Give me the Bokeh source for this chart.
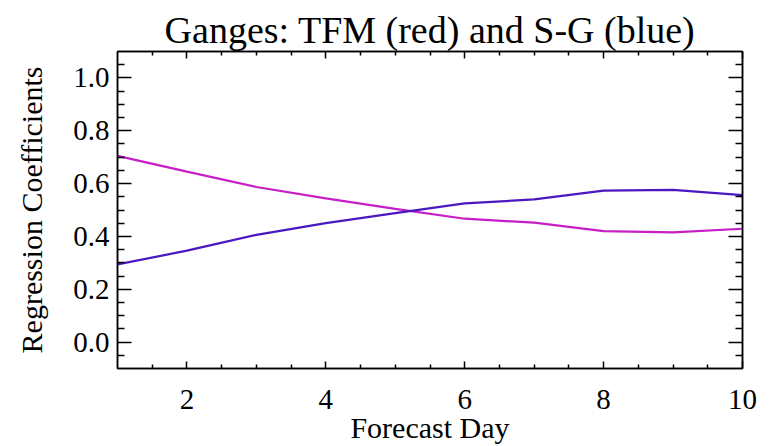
from bokeh.plotting import figure
from bokeh.models import Range1d, FixedTicker, LinearAxis, Title, CustomJSTickFormatter
from bokeh.embed import file_html
from bokeh.resources import INLINE

# Data
forecast_day = [1, 2, 3, 4, 5, 6, 7, 8, 9, 10]
tfm_coef = [0.705, 0.645, 0.587, 0.544, 0.504, 0.467, 0.452, 0.420, 0.415, 0.429]
sg_coef = [0.294, 0.346, 0.406, 0.450, 0.488, 0.525, 0.540, 0.573, 0.576, 0.556]

x_ticks = [2, 4, 6, 8, 10]
x_minor = [1.5, 2.5, 3, 3.5, 4.5, 5, 5.5, 6.5, 7, 7.5, 8.5, 9, 9.5]
y_ticks = [0.0, 0.2, 0.4, 0.6, 0.8, 1.0]
y_minor = [-0.05, 0.05, 0.1, 0.15, 0.25, 0.3, 0.35, 0.45, 0.5, 0.55,
           0.65, 0.7, 0.75, 0.85, 0.9, 0.95, 1.05]
y_labels = {0.0: "0.0", 0.2: "0.2", 0.4: "0.4", 0.6: "0.6", 0.8: "0.8", 1.0: "1.0"}

title_text = "Ganges: TFM (red) and S-G (blue)"
x_label = "Forecast Day"
y_label = "Regression Coefficients"

FONT = "Liberation Serif"

p = figure(width=771, height=446, output_backend="svg", toolbar_location=None,
           x_range=Range1d(1, 10), y_range=Range1d(-0.1, 1.1),
           min_border_left=117, min_border_right=29, min_border_top=51,
           min_border_bottom=77, x_axis_type=None, y_axis_type=None)
p.background_fill_color = "white"
p.border_fill_color = "white"
p.xgrid.visible = False
p.ygrid.visible = False
p.outline_line_color = "black"
p.outline_line_width = 1.5

def style_axis(ax, major_in, minor_in, show_labels):
    ax.major_tick_in = major_in
    ax.major_tick_out = 0
    ax.minor_tick_in = minor_in
    ax.minor_tick_out = 0
    ax.major_tick_line_color = "black"
    ax.minor_tick_line_color = "black"
    ax.major_tick_line_width = 1.5
    ax.minor_tick_line_width = 1.5
    ax.axis_line_color = "black"
    ax.axis_line_width = 1.5
    ax.major_label_text_font = FONT
    ax.axis_label_text_font = FONT
    ax.axis_label_text_font_style = "normal"
    ax.major_label_text_color = "black"
    ax.axis_label_text_color = "black"
    if not show_labels:
        ax.formatter = CustomJSTickFormatter(code="return ''")
        ax.major_label_text_font_size = "2px"
        ax.major_label_standoff = 0

xt = FixedTicker(ticks=x_ticks, minor_ticks=x_minor)
yt = FixedTicker(ticks=y_ticks, minor_ticks=y_minor)

xb = LinearAxis(ticker=xt, axis_label=x_label)
style_axis(xb, 7, 4, True)
xb.major_label_text_font_size = "29px"
xb.axis_label_text_font_size = "30px"
xb.major_label_standoff = 21
xb.axis_label_standoff = -1
p.add_layout(xb, "below")

xa = LinearAxis(ticker=xt)
style_axis(xa, 7, 4, False)
p.add_layout(xa, "above")

yl = LinearAxis(ticker=yt, axis_label=y_label, major_label_overrides=y_labels)
style_axis(yl, 14, 7, True)
yl.major_label_text_font_size = "29px"
yl.axis_label_text_font_size = "30px"
yl.major_label_standoff = 8
yl.axis_label_standoff = 22
p.add_layout(yl, "left")

yr = LinearAxis(ticker=yt)
style_axis(yr, 14, 7, False)
p.add_layout(yr, "right")

p.add_layout(Title(text=title_text, align="center", text_font=FONT,
                   text_font_size="38px", text_font_style="normal",
                   text_color="black", standoff=2), "above")

p.line(forecast_day, tfm_coef, line_color="#c81ec8", line_width=2.2)
p.line(forecast_day, sg_coef, line_color="#4a18c0", line_width=2.2)

open("out.html", "w").write(file_html(p, INLINE))
